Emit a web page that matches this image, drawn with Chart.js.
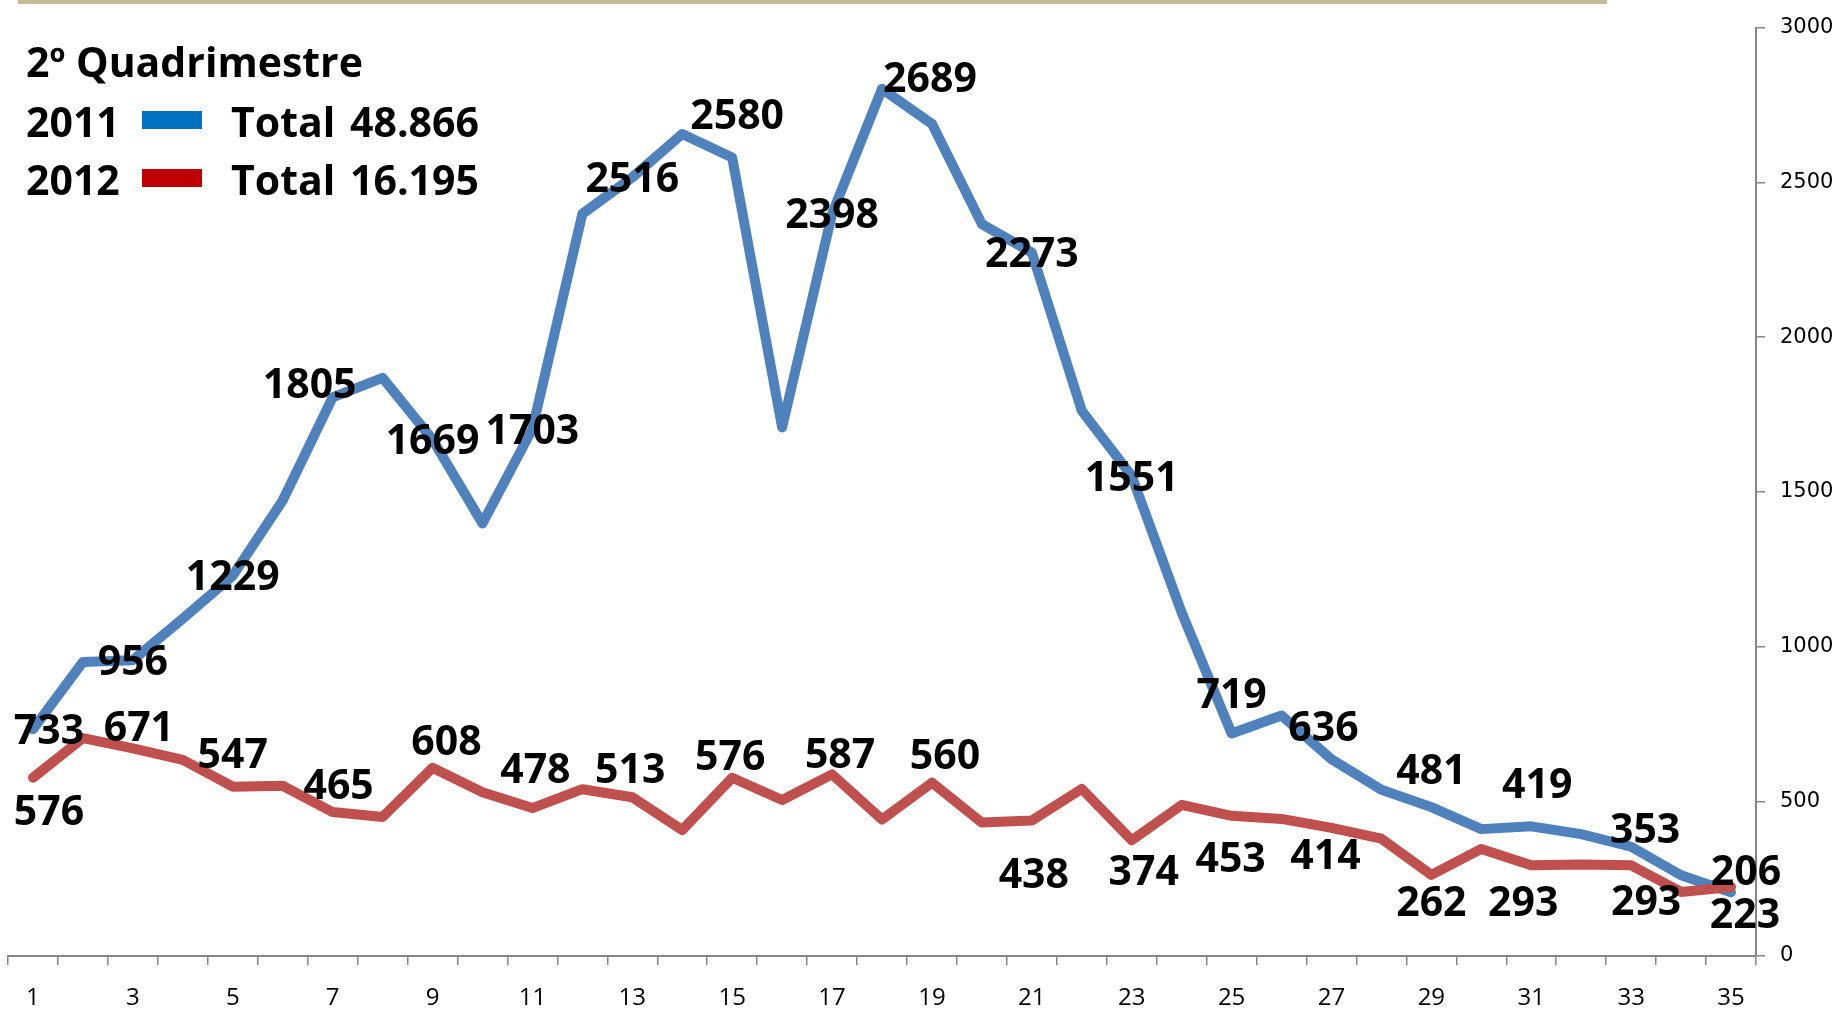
<!DOCTYPE html>
<html lang="pt">
<head>
<meta charset="UTF-8">
<title>2º Quadrimestre</title>
<script src="https://cdn.jsdelivr.net/npm/chart.js"></script>
<style>
    html, body { margin: 0; padding: 0; background: #fff; }
    #wrap { position: relative; width: 1839px; height: 1009px; }
</style>
</head>
<body>
<div id="wrap"><canvas id="grafico" width="1839" height="1009"></canvas></div>
<script>
// semanas do quadrimestre
const semanas = ['1','2','3','4','5','6','7','8','9','10','11','12','13','14','15','16','17','18',
    '19','20','21','22','23','24','25','26','27','28','29','30','31','32','33','34','35'];

const valores2011 = [733, 950, 956, 1090, 1229, 1472, 1805, 1868, 1669, 1398, 1703, 2398, 2516, 2656,
    2580, 1708, 2398, 2802, 2689, 2365, 2273, 1762, 1551, 1110, 719, 777, 636, 537, 481, 410, 419, 394,
    353, 261, 206];

const valores2012 = [576, 704, 671, 634, 547, 550, 465, 449, 608, 529, 478, 539, 513, 407, 576, 504,
    587, 441, 560, 431, 438, 540, 374, 488, 453, 443, 414, 379, 262, 346, 293, 296, 293, 207, 223];

const ticksY = [0, 500, 1000, 1500, 2000, 2500, 3000];

const titulo = '2º Quadrimestre';
const anos = ['2011', '2012'];
const totais = ['48.866', '16.195'];

// deslocamento dos rotulos (so semanas impares), em px
const desvio2011 = [[16,0],[0,0],[0,0],[-23,-14],[0,0],[0,0],[0,0],[5,-43],[0,0],[-2,-46],[0,0],[0,0],
    [0,-40],[-8,-33],[0,-38],[6,-43],[14,-18],[15,-22]];
const desvio2012 = [[16,33],[6,-22],[0,-33],[6,-28],[14,-27],[3,-40],[-2,-29],[-2,-22],[8,-21],[13,-28],
    [2,53],[12,30],[-1,42],[-6,27],[0,26],[-8,36],[15,35],[14,26]];

const AZUL = '#4F81BD';
const VERMELHO = '#C0504D';
const CINZA = '#868686';
const FONTE_ROTULO = 'bold 41px "Open Sans", Lato, sans-serif';

const fundo = {
    id: 'fundo',
    beforeDraw(chart) {
        const ctx = chart.ctx;
        ctx.save();
        ctx.fillStyle = '#C4BD97';
        ctx.fillRect(18, 0, 1589, 4);
        ctx.restore();
    }
};

const rotulos = {
    id: 'rotulos',
    afterDatasetsDraw(chart) {
        const ctx = chart.ctx;
        ctx.save();
        ctx.font = FONTE_ROTULO;
        ctx.fillStyle = '#000';
        ctx.textAlign = 'center';
        ctx.textBaseline = 'alphabetic';
        [desvio2011, desvio2012].forEach((desvios, ds) => {
            const meta = chart.getDatasetMeta(ds);
            const valores = chart.data.datasets[ds].data;
            for (let i = 0; i < valores.length; i += 2) {
                const p = meta.data[i];
                const d = desvios[i / 2];
                ctx.fillText(String(valores[i]), p.x + d[0], p.y + d[1] + 14.6);
            }
        });

        // legenda
        ctx.textAlign = 'left';
        ctx.fillText(titulo, 26, 77);
        const linhas = [137, 195];
        const cores = ['#0070C0', '#C00000'];
        anos.forEach((ano, i) => {
            const base = linhas[i];
            ctx.fillStyle = '#000';
            ctx.fillText(ano, 26, base);
            ctx.fillText('Total', 231, base);
            ctx.fillText(totais[i], 350, base);
            ctx.fillStyle = cores[i];
            ctx.fillRect(142, base - 26, 60, 18);
        });
        ctx.restore();
    }
};

new Chart(document.getElementById('grafico'), {
    type: 'line',
    data: {
        labels: semanas,
        datasets: [{
            label: anos[0],
            data: valores2011,
            borderColor: AZUL,
            borderWidth: 10,
            pointRadius: 0,
            tension: 0,
            borderJoinStyle: 'round',
            borderCapStyle: 'round',
            order: 1
        }, {
            label: anos[1],
            data: valores2012,
            borderColor: VERMELHO,
            borderWidth: 10,
            pointRadius: 0,
            tension: 0,
            borderJoinStyle: 'round',
            borderCapStyle: 'round',
            order: 0
        }]
    },
    options: {
        responsive: false,
        animation: false,
        devicePixelRatio: 1,
        layout: { padding: { left: 8, top: 20, right: 0, bottom: 0 } },
        plugins: {
            legend: { display: false },
            tooltip: { enabled: false }
        },
        scales: {
            x: {
                offset: true,
                grid: { offset: true, drawOnChartArea: false, tickLength: 9, color: CINZA, lineWidth: 1.5 },
                border: { color: CINZA, width: 2 },
                ticks: {
                    autoSkip: false,
                    maxRotation: 0,
                    padding: 19,
                    color: '#000',
                    font: { family: '"Open Sans", sans-serif', size: 24 },
                    callback: (v, i) => (i % 2 === 0 ? semanas[i] : '')
                },
                afterFit: s => { s.height = 53; }
            },
            y: {
                position: 'right',
                min: 0,
                max: 3000,
                afterBuildTicks: s => { s.ticks = ticksY.map(v => ({ value: v })); },
                grid: { drawOnChartArea: false, tickLength: 9, color: CINZA, lineWidth: 1.5 },
                border: { color: CINZA, width: 2 },
                ticks: {
                    padding: 15,
                    color: '#000',
                    font: { family: '"DejaVu Sans", sans-serif', size: 21 },
                    callback: v => String(v)
                },
                afterFit: s => { s.width = 83; }
            }
        }
    },
    plugins: [fundo, rotulos]
});
</script>
</body>
</html>
